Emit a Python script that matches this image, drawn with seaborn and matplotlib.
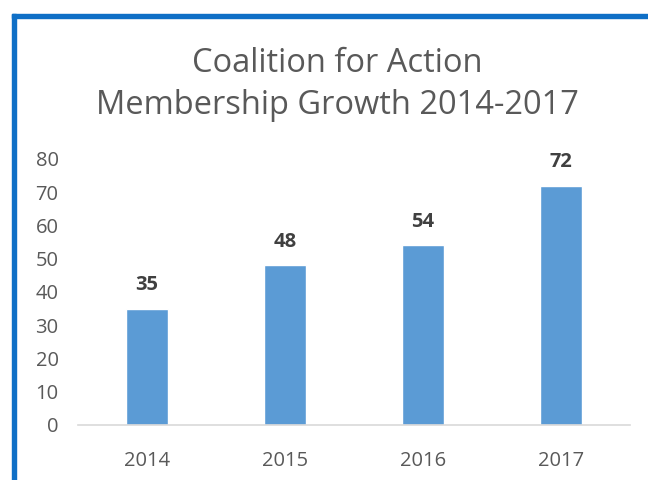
import matplotlib
matplotlib.use('Agg')
import matplotlib.pyplot as plt
import seaborn as sns
import pandas as pd
from matplotlib.patches import Rectangle

# Chart data
years = ['2014', '2015', '2016', '2017']
members = [35, 48, 54, 72]
y_ticks = [0, 10, 20, 30, 40, 50, 60, 70, 80]

df = pd.DataFrame({'year': years, 'members': members})

sns.set_style('white')
plt.rcParams['font.family'] = ['Open Sans', 'DejaVu Sans']

fig = plt.figure(figsize=(6.48, 4.8), dpi=100)
ax = fig.add_axes([78 / 648, 1 - 425 / 480, 552 / 648, (425 - 159) / 480])

sns.barplot(data=df, x='year', y='members', color='#5B9BD5', width=0.31,
            saturation=1, ax=ax)

ax.set_ylim(0, 80)
ax.set_yticks(y_ticks)
ax.set_xlim(-0.5, 3.5)
ax.set_xlabel('')
ax.set_ylabel('')
ax.tick_params(axis='y', length=0, pad=14, labelsize=14.5, labelcolor='#595959')
ax.tick_params(axis='x', length=0, pad=19, labelsize=14.5, labelcolor='#595959')

for s in ['top', 'right', 'left']:
    ax.spines[s].set_visible(False)
ax.spines['bottom'].set_color('#D9D9D9')
ax.spines['bottom'].set_linewidth(1.2)

ax.bar_label(ax.containers[0], padding=10, fontsize=14.5, fontweight='bold',
             color='#404040')

fig.text(337 / 648, 1 - 63 / 480, 'Coalition for Action', ha='center', va='center',
         fontsize=23.5, color='#595959')
fig.text(337 / 648, 1 - 106 / 480, 'Membership Growth 2014-2017', ha='center',
         va='center', fontsize=23.5, color='#595959')

# blue selection frame (left and top edges)
fig.patches.append(Rectangle((12 / 648, 0), 4 / 648, 1 - 14 / 480, transform=fig.transFigure,
                             color='#0F6FC6', zorder=10))
fig.patches.append(Rectangle((12 / 648, 1 - 18 / 480), 1, 4 / 480, transform=fig.transFigure,
                             color='#0F6FC6', zorder=10))

fig.savefig('out.png', dpi=100)
